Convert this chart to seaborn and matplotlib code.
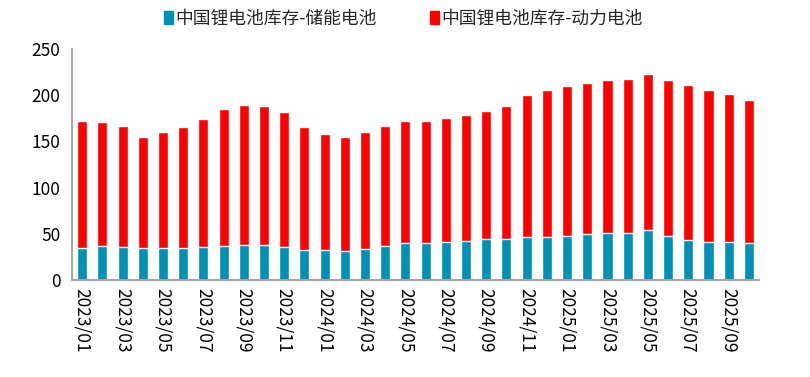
import numpy as np
import pandas as pd
import seaborn as sns
import matplotlib.pyplot as plt
from matplotlib.patches import Patch
from matplotlib.ticker import FixedLocator

# ---------------------------------------------------------
# Data
# ---------------------------------------------------------
months = [f"{y}/{m:02d}" for y in (2023, 2024, 2025) for m in range(1, 13)][:34]

# total inventory (storage + power), and storage share
total = [172.6, 171.5, 166.5, 154.6, 160.0, 165.4, 174.1, 184.9, 189.2, 188.1,
         181.6, 165.4, 157.8, 154.6, 160.0, 166.5, 172.6, 172.6, 175.9, 179.1,
         183.4, 188.8, 200.0, 206.1, 210.5, 213.7, 216.9, 218.0, 223.4, 216.9,
         211.5, 206.1, 201.8, 195.3]
storage = [34.6, 36.8, 35.7, 34.6, 34.6, 34.6, 35.7, 36.8, 37.8, 37.8,
           35.7, 32.4, 32.4, 31.4, 33.5, 36.8, 40.0, 40.0, 41.1, 42.2,
           44.3, 44.3, 46.5, 46.5, 47.6, 49.7, 50.8, 50.8, 54.1, 47.6,
           43.2, 41.1, 41.1, 40.0]
power = [round(t - s, 1) for t, s in zip(total, storage)]

label_storage = "中国锂电池库存-储能电池"
label_power = "中国锂电池库存-动力电池"
c_storage = "#0090B6"
c_power = "#FF0000"

df = pd.DataFrame({"month": months, "storage": storage, "power": power})
df["total"] = df["storage"] + df["power"]

# ---------------------------------------------------------
# Plot
# ---------------------------------------------------------
sns.set_style("white")
plt.rcParams["font.family"] = ["Noto Sans CJK SC", "DejaVu Sans"]

fig = plt.figure(figsize=(8.1, 3.77), dpi=100)
ax = fig.add_axes([0.089, 0.257, 0.848, 0.613])

# stacked: draw totals in red, then storage in blue on top
sns.barplot(data=df, x="month", y="total", color=c_power, width=0.5,
            saturation=1, ax=ax)
sns.barplot(data=df, x="month", y="storage", color=c_storage, width=0.5,
            saturation=1, ax=ax)

ax.set_xlim(-0.5, len(months) - 0.5)
ax.set_ylim(0, 250)
ax.set_yticks(np.arange(0, 251, 50))
ax.set_xlabel("")
ax.set_ylabel("")

# labels every other month, tick marks on the category boundaries
pos = np.arange(0, len(months), 2)
ax.set_xticks(pos)
ax.set_xticklabels([months[i] for i in pos], rotation=-90, fontsize=12.5,
                   color="black")
ax.xaxis.set_minor_locator(FixedLocator(np.arange(-0.5, len(months), 2)))
ax.tick_params(axis="x", which="major", length=0, pad=6)
ax.tick_params(axis="x", which="minor", length=5, width=1.5, color="#A6A6A6",
               direction="out")
ax.tick_params(axis="y", length=5, width=1.5, color="#A6A6A6", labelsize=12.5,
               labelcolor="black", direction="out")

for side in ("top", "right"):
    ax.spines[side].set_visible(False)
for side in ("left", "bottom"):
    ax.spines[side].set_color("#A6A6A6")
    ax.spines[side].set_linewidth(1.5)

handles = [Patch(color=c_storage, label=label_storage),
           Patch(color=c_power, label=label_power)]
fig.legend(handles=handles, loc="center", bbox_to_anchor=(0.498, 0.95), ncol=2,
           frameon=False, fontsize=12.8, handlelength=0.5, handleheight=0.8,
           handletextpad=0.15, columnspacing=3.0)

fig.savefig("out.png", dpi=100)
